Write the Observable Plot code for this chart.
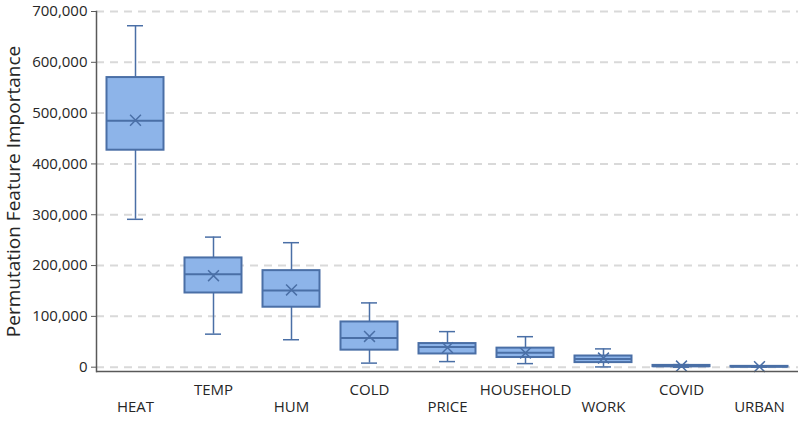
<!DOCTYPE html>
<html><head><meta charset="utf-8">
<script src="https://cdn.jsdelivr.net/npm/d3@7"></script>
<script src="https://cdn.jsdelivr.net/npm/@observablehq/plot@0.6"></script>
<style>body{margin:0;background:#fff;}</style>
</head><body><div id="chart"></div>
<script>
const categories = ["HEAT","TEMP","HUM","COLD","PRICE","HOUSEHOLD","WORK","COVID","URBAN"];
const whiskerLow  = [291000, 65000, 54000,   8000, 11000,  7000,   500,    0,    0];
const q1          = [427000, 146000, 118000, 33500, 26000, 19000,  9000, 1000,  400];
const median      = [485000, 183000, 151000, 57500, 39500, 28500, 16000, 2000, 1000];
const q3          = [570000, 215000, 190000, 89000, 46500, 37500, 22000, 3500, 1600];
const whiskerHigh = [672000, 256000, 245000, 126500, 70000, 60000, 36000, 5000, 2500];
const mean        = [486000, 180000, 152000, 60500, 38500, 28000, 18000, 2200, 1100];
const yTicks = [0, 100000, 200000, 300000, 400000, 500000, 600000, 700000];
const yDomain = [-8500, 700000];
const yLabel = "Permutation Feature Importance";

const data = categories.map((c, i) => ({
  cat: c, row: i % 2, lo: whiskerLow[i], q1: q1[i], med: median[i],
  q3: q3[i], hi: whiskerHigh[i], mean: mean[i]
}));

const stroke = "#4a6fa6";
const fill = "#8db4e9";
const boxInset = 10.5, capInset = 31;
const fmt = d3.format(",");

const chart = Plot.plot({
  width: 800, height: 422,
  marginLeft: 96, marginRight: 2, marginTop: 11, marginBottom: 51,
  style: {fontFamily: "'Open Sans', sans-serif", fontSize: "15px", color: "#262626", background: "#fff"},
  x: {type: "band", domain: categories, padding: 0, axis: null},
  y: {domain: yDomain, axis: null},
  marks: [
    Plot.gridY(yTicks, {stroke: "#d9d9d9", strokeOpacity: 1, strokeWidth: 2, strokeDasharray: "8,6"}),
    Plot.axisY(yTicks, {tickFormat: () => "", tickSize: 5, stroke: "#595959", label: null}),
    Plot.text(yTicks, {y: d => d, text: d => fmt(d), frameAnchor: "left", textAnchor: "end", dx: -9, fontSize: 15, fill: "#262626"}),
    Plot.ruleX(data, {x: "cat", y1: "lo", y2: "hi", stroke, strokeWidth: 1.5}),
    Plot.tickY(data, {x: "cat", y: "lo", insetLeft: capInset, insetRight: capInset, stroke, strokeWidth: 1.5}),
    Plot.tickY(data, {x: "cat", y: "hi", insetLeft: capInset, insetRight: capInset, stroke, strokeWidth: 1.5}),
    Plot.barY(data, {x: "cat", y1: "q1", y2: "q3", fill, stroke, strokeWidth: 2, insetLeft: boxInset, insetRight: boxInset}),
    Plot.tickY(data, {x: "cat", y: "med", insetLeft: boxInset, insetRight: boxInset, stroke, strokeWidth: 2}),
    Plot.dot(data, {x: "cat", y: "mean", symbol: "times", r: 5, stroke, strokeWidth: 1.5}),
    Plot.ruleY([yDomain[0]], {stroke: "#595959", strokeWidth: 1.5}),
    Plot.frame({anchor: "left", stroke: "#595959", strokeWidth: 1.5}),
    Plot.text(data.filter(d => d.row === 0), {x: "cat", text: "cat", frameAnchor: "bottom", dy: 40, fontSize: 15, fill: "#262626"}),
    Plot.text(data.filter(d => d.row === 1), {x: "cat", text: "cat", frameAnchor: "bottom", dy: 23, fontSize: 15, fill: "#262626"}),
    Plot.text([yLabel], {frameAnchor: "left", dx: -83, rotate: -90, textAnchor: "middle", fontSize: 19, fill: "#262626"})
  ]
});
document.getElementById("chart").appendChild(chart);
</script>
</body></html>
